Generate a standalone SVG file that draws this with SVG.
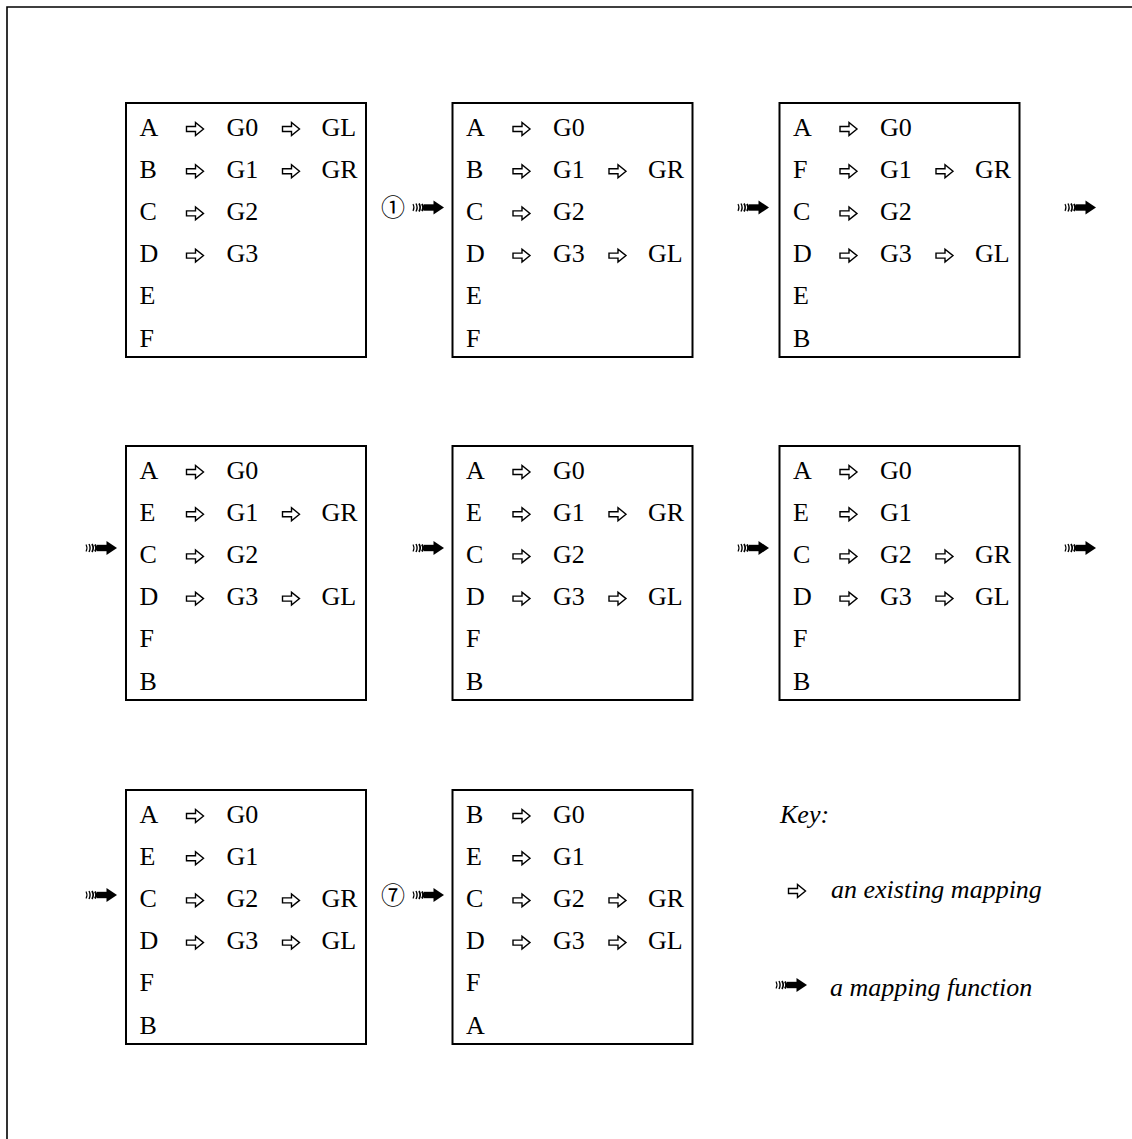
<svg xmlns="http://www.w3.org/2000/svg" xmlns:xlink="http://www.w3.org/1999/xlink" width="1132" height="1139" viewBox="0 0 1132 1139">
<style>
.t{font-family:"Liberation Serif","Times New Roman",serif;font-size:26px;fill:#000}
.k{font-family:"Liberation Serif","Times New Roman",serif;font-size:26px;font-style:italic;fill:#000}
.c{font-family:"Liberation Serif","Noto Sans CJK JP",serif;font-size:24px;fill:#000;text-anchor:middle}
.box{fill:#fff;stroke:#000;stroke-width:2}
</style>
<defs>
<path id="ea" d="M0.5,-2.5 H9.5 V-6.5 L17.5,0 L9.5,6.5 V2.5 H0.5 Z" fill="#fff" stroke="#000" stroke-width="1.4" stroke-linejoin="miter"/>
<g id="fa">
<path d="M0,-3.5 Q2,0 0,3.5" fill="none" stroke="#000" stroke-width="1.1"/>
<path d="M3,-4 Q5.2,0 3,4" fill="none" stroke="#000" stroke-width="1.4"/>
<path d="M6,-4 Q8.4,0 6,4" fill="none" stroke="#000" stroke-width="1.7"/>
<path d="M9,-3.5 Q11.4,0 9,3.5" fill="none" stroke="#000" stroke-width="2.1"/>
<rect x="11" y="-3.2" width="11" height="6.4" fill="#000"/>
<polygon points="20.5,-7 31,0 20.5,7" fill="#000"/>
</g>
</defs>
<rect width="1132" height="1139" fill="#fff"/>
<path d="M7,1139 V7 H1132" fill="none" stroke="#000" stroke-width="1.6"/>

<g id="box1" transform="translate(126,103)">
<rect class="box" width="240" height="254"/>
<text class="t" x="13.5" y="32.5">A</text><use href="#ea" x="60" y="26"/><text class="t" x="100.5" y="32.5">G0</text><use href="#ea" x="156" y="26"/><text class="t" x="195.5" y="32.5">GL</text>
<text class="t" x="13.5" y="74.7">B</text><use href="#ea" x="60" y="68.2"/><text class="t" x="100.5" y="74.7">G1</text><use href="#ea" x="156" y="68.2"/><text class="t" x="195.5" y="74.7">GR</text>
<text class="t" x="13.5" y="116.9">C</text><use href="#ea" x="60" y="110.4"/><text class="t" x="100.5" y="116.9">G2</text>
<text class="t" x="13.5" y="159.1">D</text><use href="#ea" x="60" y="152.6"/><text class="t" x="100.5" y="159.1">G3</text>
<text class="t" x="13.5" y="201.3">E</text>
<text class="t" x="13.5" y="243.5">F</text>
</g>

<g id="box2" transform="translate(452.5,103)">
<rect class="box" width="240" height="254"/>
<text class="t" x="13.5" y="32.5">A</text><use href="#ea" x="60" y="26"/><text class="t" x="100.5" y="32.5">G0</text>
<text class="t" x="13.5" y="74.7">B</text><use href="#ea" x="60" y="68.2"/><text class="t" x="100.5" y="74.7">G1</text><use href="#ea" x="156" y="68.2"/><text class="t" x="195.5" y="74.7">GR</text>
<text class="t" x="13.5" y="116.9">C</text><use href="#ea" x="60" y="110.4"/><text class="t" x="100.5" y="116.9">G2</text>
<text class="t" x="13.5" y="159.1">D</text><use href="#ea" x="60" y="152.6"/><text class="t" x="100.5" y="159.1">G3</text><use href="#ea" x="156" y="152.6"/><text class="t" x="195.5" y="159.1">GL</text>
<text class="t" x="13.5" y="201.3">E</text>
<text class="t" x="13.5" y="243.5">F</text>
</g>

<g id="box3" transform="translate(779.5,103)">
<rect class="box" width="240" height="254"/>
<text class="t" x="13.5" y="32.5">A</text><use href="#ea" x="60" y="26"/><text class="t" x="100.5" y="32.5">G0</text>
<text class="t" x="13.5" y="74.7">F</text><use href="#ea" x="60" y="68.2"/><text class="t" x="100.5" y="74.7">G1</text><use href="#ea" x="156" y="68.2"/><text class="t" x="195.5" y="74.7">GR</text>
<text class="t" x="13.5" y="116.9">C</text><use href="#ea" x="60" y="110.4"/><text class="t" x="100.5" y="116.9">G2</text>
<text class="t" x="13.5" y="159.1">D</text><use href="#ea" x="60" y="152.6"/><text class="t" x="100.5" y="159.1">G3</text><use href="#ea" x="156" y="152.6"/><text class="t" x="195.5" y="159.1">GL</text>
<text class="t" x="13.5" y="201.3">E</text>
<text class="t" x="13.5" y="243.5">B</text>
</g>

<g id="box4" transform="translate(126,446)">
<rect class="box" width="240" height="254"/>
<text class="t" x="13.5" y="32.5">A</text><use href="#ea" x="60" y="26"/><text class="t" x="100.5" y="32.5">G0</text>
<text class="t" x="13.5" y="74.7">E</text><use href="#ea" x="60" y="68.2"/><text class="t" x="100.5" y="74.7">G1</text><use href="#ea" x="156" y="68.2"/><text class="t" x="195.5" y="74.7">GR</text>
<text class="t" x="13.5" y="116.9">C</text><use href="#ea" x="60" y="110.4"/><text class="t" x="100.5" y="116.9">G2</text>
<text class="t" x="13.5" y="159.1">D</text><use href="#ea" x="60" y="152.6"/><text class="t" x="100.5" y="159.1">G3</text><use href="#ea" x="156" y="152.6"/><text class="t" x="195.5" y="159.1">GL</text>
<text class="t" x="13.5" y="201.3">F</text>
<text class="t" x="13.5" y="243.5">B</text>
</g>

<g id="box5" transform="translate(452.5,446)">
<rect class="box" width="240" height="254"/>
<text class="t" x="13.5" y="32.5">A</text><use href="#ea" x="60" y="26"/><text class="t" x="100.5" y="32.5">G0</text>
<text class="t" x="13.5" y="74.7">E</text><use href="#ea" x="60" y="68.2"/><text class="t" x="100.5" y="74.7">G1</text><use href="#ea" x="156" y="68.2"/><text class="t" x="195.5" y="74.7">GR</text>
<text class="t" x="13.5" y="116.9">C</text><use href="#ea" x="60" y="110.4"/><text class="t" x="100.5" y="116.9">G2</text>
<text class="t" x="13.5" y="159.1">D</text><use href="#ea" x="60" y="152.6"/><text class="t" x="100.5" y="159.1">G3</text><use href="#ea" x="156" y="152.6"/><text class="t" x="195.5" y="159.1">GL</text>
<text class="t" x="13.5" y="201.3">F</text>
<text class="t" x="13.5" y="243.5">B</text>
</g>

<g id="box6" transform="translate(779.5,446)">
<rect class="box" width="240" height="254"/>
<text class="t" x="13.5" y="32.5">A</text><use href="#ea" x="60" y="26"/><text class="t" x="100.5" y="32.5">G0</text>
<text class="t" x="13.5" y="74.7">E</text><use href="#ea" x="60" y="68.2"/><text class="t" x="100.5" y="74.7">G1</text>
<text class="t" x="13.5" y="116.9">C</text><use href="#ea" x="60" y="110.4"/><text class="t" x="100.5" y="116.9">G2</text><use href="#ea" x="156" y="110.4"/><text class="t" x="195.5" y="116.9">GR</text>
<text class="t" x="13.5" y="159.1">D</text><use href="#ea" x="60" y="152.6"/><text class="t" x="100.5" y="159.1">G3</text><use href="#ea" x="156" y="152.6"/><text class="t" x="195.5" y="159.1">GL</text>
<text class="t" x="13.5" y="201.3">F</text>
<text class="t" x="13.5" y="243.5">B</text>
</g>

<g id="box7" transform="translate(126,790)">
<rect class="box" width="240" height="254"/>
<text class="t" x="13.5" y="32.5">A</text><use href="#ea" x="60" y="26"/><text class="t" x="100.5" y="32.5">G0</text>
<text class="t" x="13.5" y="74.7">E</text><use href="#ea" x="60" y="68.2"/><text class="t" x="100.5" y="74.7">G1</text>
<text class="t" x="13.5" y="116.9">C</text><use href="#ea" x="60" y="110.4"/><text class="t" x="100.5" y="116.9">G2</text><use href="#ea" x="156" y="110.4"/><text class="t" x="195.5" y="116.9">GR</text>
<text class="t" x="13.5" y="159.1">D</text><use href="#ea" x="60" y="152.6"/><text class="t" x="100.5" y="159.1">G3</text><use href="#ea" x="156" y="152.6"/><text class="t" x="195.5" y="159.1">GL</text>
<text class="t" x="13.5" y="201.3">F</text>
<text class="t" x="13.5" y="243.5">B</text>
</g>

<g id="box8" transform="translate(452.5,790)">
<rect class="box" width="240" height="254"/>
<text class="t" x="13.5" y="32.5">B</text><use href="#ea" x="60" y="26"/><text class="t" x="100.5" y="32.5">G0</text>
<text class="t" x="13.5" y="74.7">E</text><use href="#ea" x="60" y="68.2"/><text class="t" x="100.5" y="74.7">G1</text>
<text class="t" x="13.5" y="116.9">C</text><use href="#ea" x="60" y="110.4"/><text class="t" x="100.5" y="116.9">G2</text><use href="#ea" x="156" y="110.4"/><text class="t" x="195.5" y="116.9">GR</text>
<text class="t" x="13.5" y="159.1">D</text><use href="#ea" x="60" y="152.6"/><text class="t" x="100.5" y="159.1">G3</text><use href="#ea" x="156" y="152.6"/><text class="t" x="195.5" y="159.1">GL</text>
<text class="t" x="13.5" y="201.3">F</text>
<text class="t" x="13.5" y="243.5">A</text>
</g>

<g id="connectors">
<use href="#fa" x="413" y="207.5"/>
<use href="#fa" x="738" y="207.5"/>
<use href="#fa" x="1065" y="207.5"/>
<use href="#fa" x="86" y="548"/>
<use href="#fa" x="413" y="548"/>
<use href="#fa" x="738" y="548"/>
<use href="#fa" x="1065" y="548"/>
<use href="#fa" x="86" y="895"/>
<use href="#fa" x="413" y="895"/>
<text class="c" x="393" y="216">①</text>
<text class="c" x="393" y="904">⑦</text>
</g>

<g id="key">
<text class="k" x="780" y="823">Key:</text>
<use href="#ea" x="788" y="891"/>
<text class="k" x="831" y="898">an existing mapping</text>
<use href="#fa" x="776" y="985"/>
<text class="k" x="830" y="996">a mapping function</text>
</g>
</svg>
